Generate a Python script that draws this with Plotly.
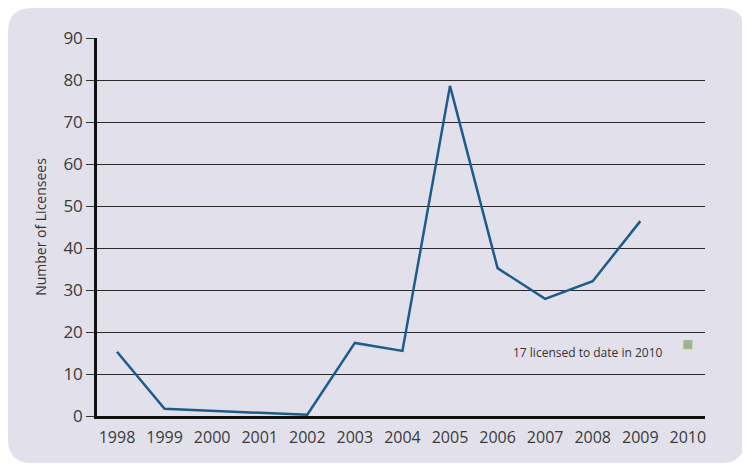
import plotly.graph_objects as go

years = [1998, 1999, 2000, 2001, 2002, 2003, 2004, 2005, 2006, 2007, 2008, 2009]
licensees = [15.3, 1.7, None, None, 0.3, 17.4, 15.5, 78.6, 35.2, 27.9, 32.1, 46.4]
partial_year = [2010]
partial_value = [17]
tick_years = list(range(1998, 2011))
note = "17 licensed to date in 2010"

OFF = 8  # page body margin
W, H = 750 - OFF, 467 - OFF
L, R, T, B = 97 - OFF, 45, 38 - OFF, 51
pw, ph = W - L - R, H - T - B

def px(x):
    return (x - L) / pw

def py(y):
    return (H - B - y) / ph

# rounded background in paper coordinates (figure pixel coords)
x0, x1, y0, y1, r = 0, 737, 0, 455, 24
path = (
    f"M {px(x0 + r)},{py(y0)} L {px(x1 - r)},{py(y0)} "
    f"Q {px(x1)},{py(y0)} {px(x1)},{py(y0 + r)} "
    f"L {px(x1)},{py(y1 - r)} Q {px(x1)},{py(y1)} {px(x1 - r)},{py(y1)} "
    f"L {px(x0 + r)},{py(y1)} Q {px(x0)},{py(y1)} {px(x0)},{py(y1 - r)} "
    f"L {px(x0)},{py(y0 + r)} Q {px(x0)},{py(y0)} {px(x0 + r)},{py(y0)} Z"
)

fig = go.Figure()
fig.add_trace(go.Scatter(
    x=years, y=licensees, mode="lines", connectgaps=True,
    line=dict(color="#1d5b8a", width=2.5), showlegend=False,
))
fig.add_trace(go.Scatter(
    x=partial_year, y=partial_value, mode="markers",
    marker=dict(symbol="square", size=9, color="#9cb58b"), showlegend=False,
))
fig.add_annotation(
    x=2009.52, y=15.2, text=note, showarrow=False, xanchor="right",
    font=dict(family="Open Sans", size=12, color="#333333"),
)
fig.update_layout(
    width=W, height=H, autosize=False,
    margin=dict(l=L, r=R, t=T, b=B, autoexpand=False),
    paper_bgcolor="white", plot_bgcolor="rgba(0,0,0,0)",
    font=dict(family="Open Sans", color="#333333"),
    shapes=[dict(type="path", path=path, xref="paper", yref="paper",
                 fillcolor="#e2e1eb", line=dict(width=0), layer="below")],
    xaxis=dict(
        range=[1997.58, 2010.36], tickmode="array", tickvals=tick_years,
        ticktext=[str(y) for y in tick_years], showgrid=False, zeroline=False,
        showline=True, linecolor="#111111", linewidth=3,
        ticks="outside", ticklen=5, tickcolor="rgba(0,0,0,0)",
        tickfont=dict(size=16, color="#3a3a3a"),
    ),
    yaxis=dict(
        range=[0, 90], dtick=10, showgrid=True, gridcolor="#2a2a2a", gridwidth=1.3,
        zeroline=False, showline=True, linecolor="#111111", linewidth=2.5,
        ticks="outside", ticklen=8, tickcolor="#333333", tickwidth=1.3,
        tickfont=dict(size=17, color="#3a3a3a"),
        title=dict(text="Number of Licensees", font=dict(size=14, color="#333333"), standoff=14),
    ),
)
fig.write_html("out.html")
